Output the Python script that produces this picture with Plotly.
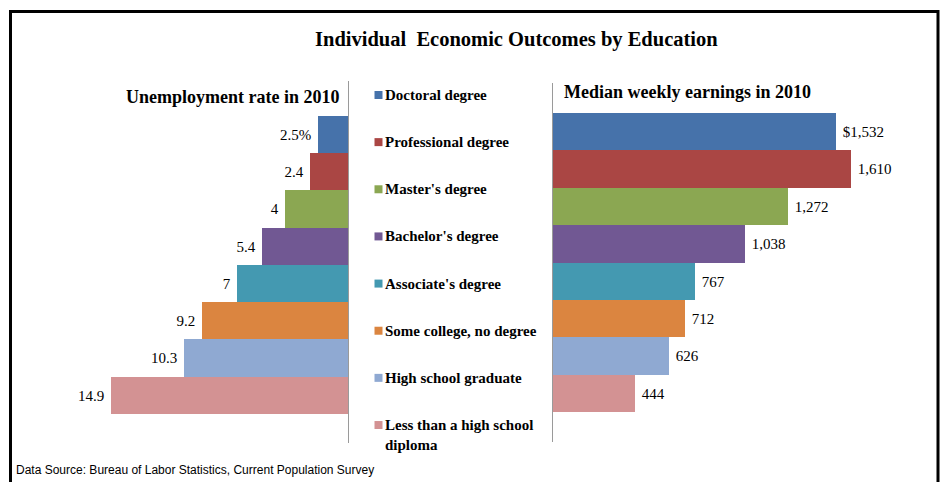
import plotly.graph_objects as go

# ---------------- data ----------------
categories = [
    "Doctoral degree",
    "Professional degree",
    "Master's degree",
    "Bachelor's degree",
    "Associate's degree",
    "Some college, no degree",
    "High school graduate",
    "Less than a high school diploma",
]
legend_labels = [
    "Doctoral degree",
    "Professional degree",
    "Master's degree",
    "Bachelor's degree",
    "Associate's degree",
    "Some college, no degree",
    "High school graduate",
    "Less than a high school<br>diploma",
]
unemployment = [1.9, 2.4, 4.0, 5.4, 7.0, 9.2, 10.3, 14.9]
unemployment_labels = ["2.5%", "2.4", "4", "5.4", "7", "9.2", "10.3", "14.9"]
earnings = [1532, 1610, 1272, 1038, 767, 712, 626, 444]
earnings_labels = ["$1,532", "1,610", "1,272", "1,038", "767", "712", "626", "444"]
colors = ["#4672AA", "#AA4644", "#8BA752", "#715893",
          "#4499B1", "#DB8540", "#8FA9D2", "#D39293"]

W, H = 940, 482
def px(x):
    return x / W
def py(y):
    return 1 - y / H

SERIF = "Liberation Serif, Times New Roman, serif"

fig = go.Figure()

# left: unemployment (reversed)
fig.add_trace(go.Bar(
    x=unemployment, y=categories, orientation="h",
    marker=dict(color=colors, line=dict(width=0)),
    text=unemployment_labels, texttemplate="%{text}\u00a0", textposition="outside",
    textfont=dict(family=SERIF, size=15, color="black"),
    cliponaxis=False, xaxis="x", yaxis="y", name="Unemployment rate in 2010",
    hoverinfo="skip",
))
# right: earnings
fig.add_trace(go.Bar(
    x=earnings, y=categories, orientation="h",
    marker=dict(color=colors, line=dict(width=0)),
    text=earnings_labels, texttemplate="\u00a0%{text}", textposition="outside",
    textfont=dict(family=SERIF, size=15, color="black"),
    cliponaxis=False, xaxis="x2", yaxis="y2", name="Median weekly earnings in 2010",
    hoverinfo="skip",
))
# legend markers (middle column)
fig.add_trace(go.Scatter(
    x=[0] * len(categories), y=categories, mode="markers",
    marker=dict(symbol="square", size=8, color=colors, line=dict(width=0)),
    cliponaxis=False, xaxis="x3", yaxis="y3", hoverinfo="skip",
))

annotations = [
    dict(text="Individual  Economic Outcomes by Education", xref="paper", yref="paper",
         x=px(516), y=py(39), xanchor="center", yanchor="middle", showarrow=False,
         font=dict(family=SERIF, size=20.5, color="black", weight="bold")),
    dict(text="Unemployment rate in 2010", xref="paper", yref="paper",
         x=px(341), y=py(97), xanchor="right", yanchor="middle", showarrow=False,
         font=dict(family=SERIF, size=18, color="black", weight="bold")),
    dict(text="Median weekly earnings in 2010", xref="paper", yref="paper",
         x=px(562), y=py(92), xanchor="left", yanchor="middle", showarrow=False,
         font=dict(family=SERIF, size=18, color="black", weight="bold")),
    dict(text="Data Source: Bureau of Labor Statistics, Current Population Survey",
         xref="paper", yref="paper", x=px(14), y=py(470), xanchor="left", yanchor="middle",
         showarrow=False,
         font=dict(family="Liberation Sans, Arial, sans-serif", size=12, color="black")),
]
for cat, lab in zip(categories, legend_labels):
    annotations.append(dict(
        text=lab, xref="x3", yref="y3", x=0, y=cat, xanchor="left", yanchor="top",
        xshift=4, yshift=10, showarrow=False, align="left",
        font=dict(family=SERIF, size=15, color="black", weight="bold"),
    ))

axis_hidden = dict(visible=False, fixedrange=True)
fig.update_layout(
    width=W, height=H, autosize=False,
    margin=dict(l=0, r=0, t=0, b=0),
    paper_bgcolor="white", plot_bgcolor="rgba(0,0,0,0)",
    showlegend=False, bargap=0,
    xaxis=dict(domain=[px(94), px(348)], range=[16, 0], **axis_hidden),
    yaxis=dict(domain=[py(443), py(81)], type="category", range=[8.28, -1.44],
               anchor="x", side="right", showline=True, linecolor="#9a9a9a", linewidth=1,
               showticklabels=False, ticks="", showgrid=False, zeroline=False, fixedrange=True),
    xaxis2=dict(domain=[px(553), px(923)], range=[0, 2000], anchor="y2", **axis_hidden),
    yaxis2=dict(domain=[py(442), py(83)], type="category", range=[8.30, -1.30],
                anchor="x2", side="left", showline=True, linecolor="#9a9a9a", linewidth=1,
                showticklabels=False, ticks="", showgrid=False, zeroline=False, fixedrange=True),
    xaxis3=dict(domain=[px(368.5), px(388.5)], range=[-1, 1], anchor="y3", **axis_hidden),
    yaxis3=dict(domain=[py(448.6), py(71.4)], type="category", range=[7.5, -0.5],
                anchor="x3", **axis_hidden),
    annotations=annotations,
    shapes=[dict(type="rect", xref="paper", yref="paper",
                 x0=px(10.5), x1=px(938), y0=-0.1, y1=py(11.5),
                 line=dict(color="black", width=3), fillcolor="rgba(0,0,0,0)")],
)

fig.write_html("out.html")
